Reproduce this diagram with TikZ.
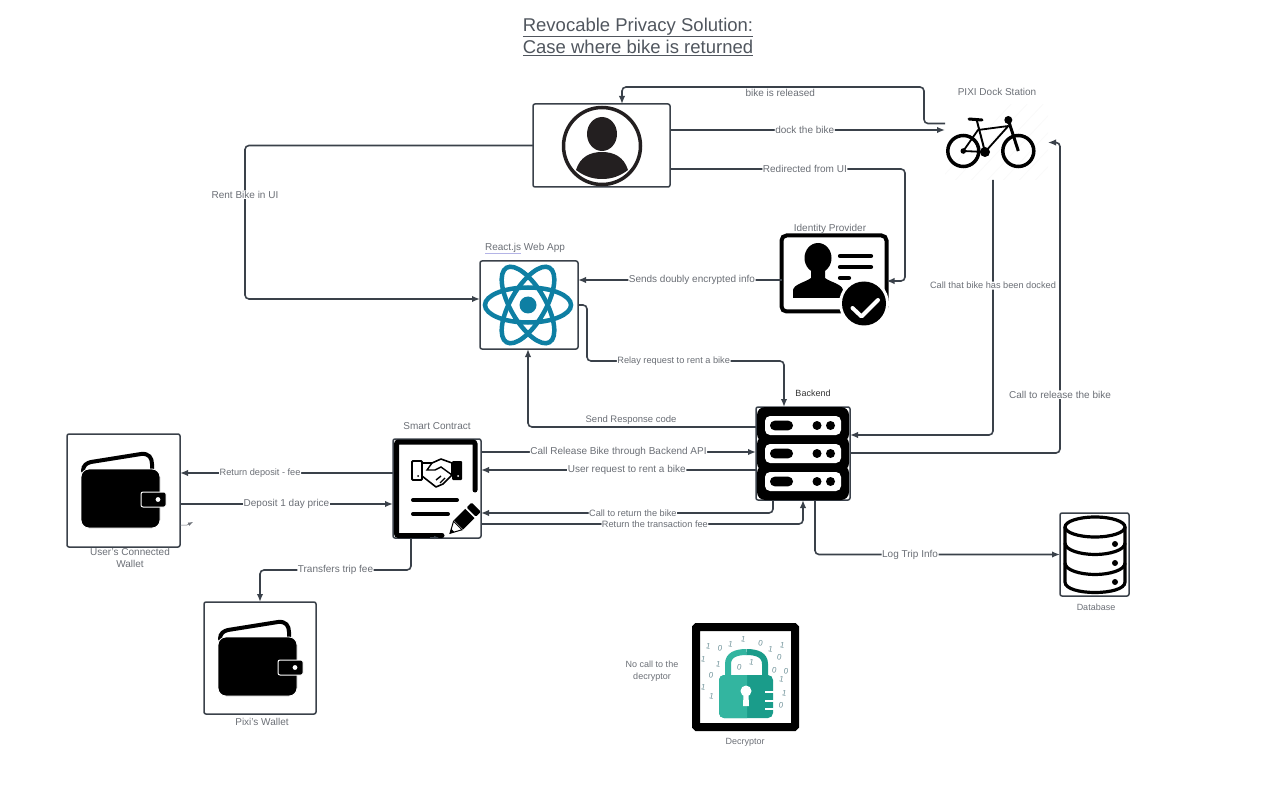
\documentclass[tikz,border=0pt]{standalone}
\usepackage{fontspec}
\setmainfont{Liberation Sans}
\usepackage{tikz}
\usetikzlibrary{arrows.meta}
\definecolor{linec}{HTML}{3A414A}
\definecolor{textc}{HTML}{6B6F76}
\definecolor{titlec}{HTML}{50565E}
\definecolor{spellc}{HTML}{B4B4E6}
\definecolor{reactc}{HTML}{0E7FA3}
\definecolor{lockl}{HTML}{33B5A0}
\definecolor{lockd}{HTML}{1A9C8A}
\definecolor{digitc}{HTML}{6F9299}
\definecolor{personc}{HTML}{231F20}
\tikzset{>={Latex[length=8pt, width=6.5pt]}}
\tikzset{
    conn/.style={line width=1.6pt, draw=linec, rounded corners=4pt},
    iconbox/.style={draw=linec, line width=1.5pt, rounded corners=2pt, inner sep=0pt, outer sep=0pt},
    lbl/.style={fill=white, inner sep=0.6pt, text=textc, font=\fontsize{10}{12}\selectfont},
    lblsm/.style={fill=white, inner sep=0.6pt, text=textc, font=\fontsize{9.2}{11}\selectfont},
    lblfree/.style={inner sep=0.6pt, text=textc, font=\fontsize{9.5}{11.5}\selectfont},
    capt/.style={text=textc, font=\fontsize{10}{12}\selectfont, align=center, inner sep=0pt},
    captsm/.style={text=textc, font=\fontsize{9}{12}\selectfont, align=center, inner sep=0pt},
    walleticon/.pic={
        \draw[line width=4pt, black, line cap=round] (16,37) .. controls (16,31) and (20,29) .. (24,28) -- (74,20) .. controls (82,19) and (85,24) .. (85,30) -- (85,37);
        \draw[white, line width=0.8pt, fill=black, rounded corners=8pt] (14,35) rectangle (93,94);
        \draw[white, line width=1pt, fill=black, rounded corners=2pt] (74,58) rectangle (99,73);
        \fill[white] (91,65.5) circle[radius=2.4];
    }
}
\begin{document}
\begin{tikzpicture}[x=1pt, y=-1pt]
    \useasboundingbox (0, 0) rectangle (1285, 810);
    \node[font=\fontsize{18.5}{22}\selectfont, text=titlec, align=center, inner sep=0pt] (title) at (638, 37) {\underline{Revocable Privacy Solution:}\\[0.5pt]\underline{Case where bike is returned}};

    % boxes
    \node[iconbox, minimum width=137pt, minimum height=83pt] (user) at (601.5, 145.5) {};
    \node[minimum width=103pt, minimum height=75pt, inner sep=0pt, outer sep=0pt] (bike) at (996.5, 142.5) {};
    \node[iconbox, line width=4pt, draw=black, rounded corners=5pt, minimum width=105pt, minimum height=76pt] (idp) at (834, 273.5) {};
    \node[iconbox, minimum width=98pt, minimum height=88pt] (react) at (529, 305) {};
    \node[iconbox, minimum width=94pt, minimum height=93pt] (backend) at (803, 453.5) {};
    \node[iconbox, minimum width=88pt, minimum height=99pt] (contract) at (437, 488.5) {};
    \node[iconbox, minimum width=113pt, minimum height=113pt] (uwallet) at (123.5, 490.5) {};
    \node[iconbox, minimum width=112pt, minimum height=112pt] (pwallet) at (260, 658) {};
    \node[iconbox, minimum width=69pt, minimum height=83pt] (db) at (1094.5, 554.5) {};
    \node[draw=black, fill=white, line width=8pt, rounded corners=1pt, minimum width=99pt, minimum height=100pt, inner sep=0pt] (decrypt) at (745.5, 677) {};

    % captions
    \node[capt] (capbike) at (997, 92) {PIXI Dock Station};
    \node[capt] (capidp) at (830, 229) {Identity Provider};
    \node[capt] (capreact) at (525, 248.5) {\textcolor{spellc}{\underline{\textcolor{textc}{React.js}}} Web App};
    \node[captsm, text=black!80] (capback) at (813, 393) {Backend};
    \node[capt] (capcontract) at (437, 426) {Smart Contract};
    \node[capt] (capuser) at (130, 558) {User's Connected\\Wallet};
    \node[capt] (cappixi) at (262, 722) {Pixi's Wallet};
    \node[captsm] (capdb) at (1096, 607) {Database};
    \node[captsm] (capdec) at (745, 742) {Decryptor};
    \node[captsm] (capno) at (652, 671) {No call to the\\decryptor};

    % connectors
    \draw[conn, ->] ([yshift=19pt]bike.west)--++(-21, 0)--++(0, -36.5)-|node[lblfree, font=\fontsize{10}{12}\selectfont, pos=.238, below=1pt](lrel){bike is released} ([xshift=20.5pt]user.north);
    \draw[conn, ->] ([yshift=15.5pt]user.east)--node[lbl, pos=.49](ldock){dock the bike} ([yshift=12.5pt]bike.west);
    \draw[conn, ->] ([yshift=-23.5pt]user.east)--node[lbl, pos=.574](lred){Redirected from UI} ++(235, 0)|-([yshift=-7.5pt]idp.east);
    \draw[conn, ->] (user.west)--++(-288, 0)|-node[lbl, pos=.16](lrent){Rent Bike in UI} ([yshift=6pt]react.west);
    \draw[conn, ->] ([yshift=-6.5pt]idp.west)--node[lbl, pos=.44](lsend){Sends doubly encrypted info} ([yshift=25pt]react.east);
    \draw[conn, ->] (react.east)--++(9, 0)--++(0, 56)-|node[lblsm, pos=.22](lrelay){Relay request to rent a bike} ([xshift=-19pt]backend.north);
    \draw[conn, ->] ([yshift=26.5pt]backend.west)-|node[lblfree, pos=.274, above=1pt](lresp){Send Response code} ([xshift=-1pt]react.south);
    \draw[conn, ->] ([yshift=36.5pt]contract.east)--node[lbl, pos=.5](lcall){Call Release Bike through Backend API} ([yshift=1.5pt]backend.west);
    \draw[conn, ->] ([yshift=-16.5pt]backend.west)--node[lbl, pos=.47](lreq){User request to rent a bike} ([yshift=18.5pt]contract.east);
    \draw[conn, ->] ([xshift=-30pt]backend.south)|-node[lblsm, pos=.74](lret){Call to return the bike} ([yshift=-24.5pt]contract.east);
    \draw[conn, ->] ([yshift=-35.5pt]contract.east)-|node[lblsm, pos=.27](lfee){Return the transaction fee} (backend.south);
    \draw[conn, ->] ([yshift=15.5pt]contract.west)--node[lblsm, pos=.624](ldep){Return deposit - fee} ([yshift=17.5pt]uwallet.east);
    \draw[conn, ->] ([yshift=-13.5pt]uwallet.east)--node[lbl, pos=.5](lday){Deposit 1 day price} ([yshift=-15.5pt]contract.west);
    \draw[conn, ->] ([xshift=-26pt]contract.south)--++(0, 32)-|node[lbl, pos=.25](ltrip){Transfers trip fee} (pwallet.north);
    \draw[conn, ->] ([xshift=12pt]backend.south)|-node[lbl, pos=.694](llog){Log Trip Info} (db.west);
    \draw[conn, ->] ([xshift=-3.5pt]bike.south)|-node[lblsm, pos=.207](ldocked){Call that bike has been docked} ([yshift=18.5pt]backend.east);
    \draw[conn, ->] ([yshift=.5pt]backend.east)--++(210, 0)|-node[lbl, pos=.094](lbikerel){Call to release the bike} (bike.east);
    \draw[line width=.5pt, textc, -{Latex[length=5pt, width=3.5pt]}] ([yshift=-34.5pt]uwallet.east)--++(7, 0)--++(6, -3);

    % user
    \draw[personc, line width=3.5pt, fill=white] (602, 146) circle[radius=38.5];
    \fill[personc] (602, 134) ellipse[x radius=15, y radius=17];
    \fill[personc] (576, 170) .. controls (580, 157) and (590, 152) .. (602, 152) .. controls (614, 152) and (624, 157) .. (628, 170) .. controls (620, 176) and (612, 179) .. (602, 179) .. controls (592, 179) and (584, 176) .. (576, 170) -- cycle;

    % bike
    \begin{scope}
        \clip (945, 105) rectangle (1048, 180);
        \foreach \d in {0, 16, ..., 176}
            \draw[black!2, line width=1pt] (930+\d, 190)--(930+\d+85, 100);
    \end{scope}
    \draw[black, line width=3.5pt] (963.3, 151) circle[radius=15.5];
    \draw[black, line width=3.5pt] (1018.3, 151) circle[radius=15.5];
    \draw[black, line width=1.8pt, line join=round] (963.3, 151)--(978, 130)--(1008.3, 126)--(985, 152)--cycle;
    \draw[black, line width=2pt] (976.7, 120)--(985, 152);
    \draw[black, line width=3pt, line cap=round] (969, 119)--(982, 120);
    \draw[black, line width=3pt] (1008.3, 120)--(1018.3, 151);
    \fill[black] (1008.3, 120) circle[radius=4];
    \fill[black] (985, 152) circle[radius=5];
    \fill[black] (963.3, 151) circle[radius=2.8];

    % identity provider
    \fill[black] (818, 258) ellipse[x radius=13.5, y radius=15];
    \fill[black, line join=round] (793, 298)--(793, 290) .. controls (794, 284) and (806, 282) .. (811, 278)--(811, 268)--(825, 268)--(825, 278) .. controls (830, 282) and (842, 284) .. (843, 290)--(843, 298)--cycle;
    \draw[black, line width=4.2pt, line cap=round] (840, 256)--(871, 256) (840, 267)--(871, 267) (840, 278)--(849, 278);
    \fill[white] (864, 303.5) circle[radius=25];
    \fill[black] (864, 303.5) circle[radius=22];
    \draw[white, line width=4pt, line cap=round, line join=round] (852.5, 308)--(861.5, 316.5)--(878, 300);

    % react
    \foreach \r in {0, 60, 120}
        \draw[reactc, line width=4.5pt, rotate around={\r:(528, 305)}] (528, 305) ellipse[x radius=43, y radius=17.5];
    \fill[reactc] (528, 305) circle[radius=8.5];

    % backend
    \foreach \y/\h in {407/35, 436/35, 465/35}
        \fill[black, rounded corners=8pt] (757, \y) rectangle (849, \y+\h);
    \foreach \y in {416, 444, 472}{
        \fill[white, rounded corners=5pt] (765, \y) rectangle (841, \y+19);
        \fill[black, rounded corners=4.7pt] (770, \y+4.7) rectangle (793, \y+14.3);
        \fill[black] (817, \y+9.5) circle[radius=4.5];
        \fill[black] (830.5, \y+9.5) circle[radius=4.5];
    }

    % contract
    \draw[black, line width=5pt, line cap=round, rounded corners=2pt] (442, 535.5)--(396.5, 535.5)--(396.5, 442)--(475, 442)--(475, 490);
    \draw[black, line width=4pt, line cap=round] (413, 500)--(457, 500) (413, 514)--(448, 514);
    \draw[black, line width=1.8pt, rounded corners=1pt] (412, 461) rectangle (422, 480);
    \fill[black, rounded corners=1pt] (452, 461) rectangle (462, 480);
    \draw[black, line width=1.6pt, fill=white, line join=round] (422, 463)--(432, 463)--(441, 459)--(452, 463)--(452, 475)--(443, 484)--(436, 487)--(422, 476)--cycle;
    \draw[black, line width=1.4pt] (432, 463)--(427, 470)--(435, 470)--(441, 467)--(452, 475) (436, 480)--(441, 476) (440, 483)--(445, 478);
    \fill[black] (418, 476) circle[radius=1];
    \fill[white] (458, 476) circle[radius=1];
    \begin{scope}[shift={(450, 533.3)}, rotate=45]
        \draw[black, line width=1pt, fill=white] (0, 0)--(11, -6)--(11, 6)--cycle;
        \fill[black] (0, 0)--(4, -2.2)--(4, 2.2)--cycle;
        \fill[black] (12, -6.5) rectangle (28, 6.5);
        \fill[black, rounded corners=1pt] (30, -6.5) rectangle (37, 6.5);
    \end{scope}
    \draw[line width=.8pt, linec, -{Latex[length=5pt, width=3.5pt]}] ([xshift=-7pt, yshift=-49pt]contract.center)--++(9, 0);

    % wallets
    \pic at (uwallet.north west) {walleticon};
    \pic at (pwallet.north west) {walleticon};

    % database
    \draw[black, line width=3.2pt, fill=white] (1065, 527)--(1065, 582) .. controls (1065, 589) and (1080, 592.5) .. (1095, 592.5) .. controls (1110, 592.5) and (1125, 589) .. (1125, 582)--(1125, 527);
    \draw[black, line width=3.2pt] (1095, 527) ellipse[x radius=30, y radius=10];
    \foreach \y in {543, 563}
        \draw[black, line width=3.2pt] (1065, \y) .. controls (1065, \y+7) and (1080, \y+11.5) .. (1095, \y+11.5) .. controls (1110, \y+11.5) and (1125, \y+7) .. (1125, \y);
    \foreach \y in {544, 563, 582}
        \fill[black] (1115, \y) circle[radius=3];

    % decryptor
    \foreach \u/\v/\t [count=\k] in {70/85/1, 105/92/0, 137/80/1, 175/65/1, 227/75/0, 257/95/1, 292/82/1, 283/118/0, 55/125/1, 100/140/1, 78/172/0, 163/147/0, 200/133/1, 268/158/0, 303/160/0, 290/185/1, 55/208/1, 80/235/1, 298/225/1, 288/262/0}
        \node[text=digitc, font=\fontsize{8}{8}\selectfont, inner sep=0pt, rotate=-12] (dig\k) at (685+\u/3, 618+\v/3) {\t};
    \draw[lockl, line width=6pt] (728, 676)--(728, 664) .. controls (728, 655) and (736, 652) .. (746.5, 652);
    \draw[lockd, line width=6pt] (765, 676)--(765, 664) .. controls (765, 655) and (757, 652) .. (746.5, 652);
    \fill[lockd, rounded corners=5pt] (719, 675) rectangle (773, 718);
    \begin{scope}
        \clip (710, 670) rectangle (747, 722);
        \fill[lockl, rounded corners=5pt] (719, 675) rectangle (773, 718);
    \end{scope}
    \fill[white] (746, 691) circle[radius=5.5];
    \fill[white] (743.5, 694)--(748.5, 694)--(749, 706)--(743, 706)--cycle;
    \draw[white, line width=2.2pt] (765, 692)--(774, 692) (765, 701)--(774, 701) (765, 709)--(774, 709);
\end{tikzpicture}
\end{document}
